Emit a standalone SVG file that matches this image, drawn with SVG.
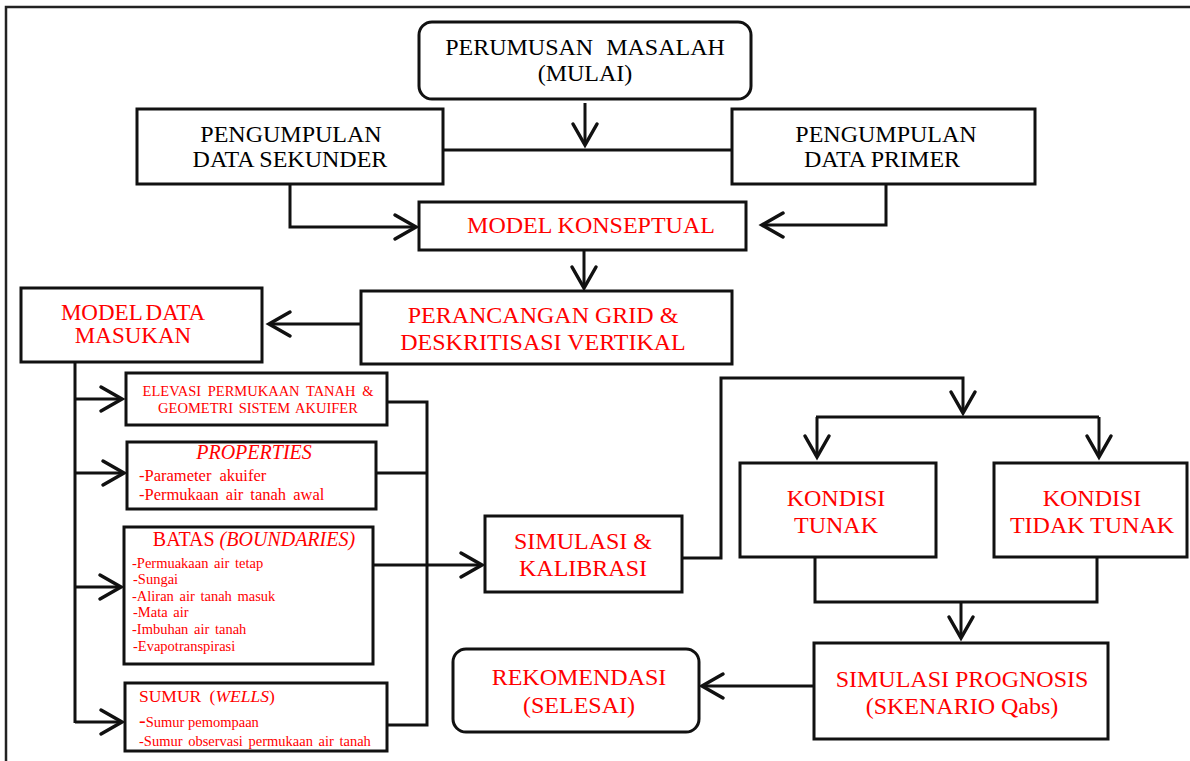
<svg xmlns="http://www.w3.org/2000/svg" width="1190" height="761" viewBox="0 0 1190 761">
<defs>
<marker id="arr" markerUnits="userSpaceOnUse" viewBox="-2 -2 26 28" markerWidth="26" markerHeight="28" refX="21" refY="12" orient="auto" overflow="visible">
<path d="M0,0 L21,12 L0,24" fill="none" stroke="#111" stroke-width="3.5" stroke-linecap="round" stroke-linejoin="miter"/>
</marker>
<style>
.box{fill:#fff;stroke:#111;stroke-width:3}
.t{font-family:"Liberation Serif","Times New Roman",serif;text-anchor:middle}
.big{font-size:24px}
.blk{fill:#000}
.red{fill:#ff0000}
.sm{font-size:14.5px;text-anchor:start}
.con{fill:none;stroke:#111;stroke-width:3}
</style>
</defs>
<rect x="0" y="0" width="1190" height="761" fill="#fff"/>
<path d="M6,761 V7 H1190" fill="none" stroke="#222" stroke-width="2.5"/>

<g id="connectors">
<path class="con" d="M585,103 V145" marker-end="url(#arr)"/>
<path class="con" d="M443,150 H732"/>
<path class="con" d="M290,184 V227 H416" marker-end="url(#arr)"/>
<path class="con" d="M886,184 V225 H762" marker-end="url(#arr)"/>
<path class="con" d="M584,250 V288" marker-end="url(#arr)"/>
<path class="con" d="M361,324 H269" marker-end="url(#arr)"/>
<path class="con" d="M75,362 V723"/>
<path class="con" d="M75,399 H122" marker-end="url(#arr)"/>
<path class="con" d="M75,473 H124" marker-end="url(#arr)"/>
<path class="con" d="M75,587 H121" marker-end="url(#arr)"/>
<path class="con" d="M75,722 H122" marker-end="url(#arr)"/>
<path class="con" d="M387,402 H427 V725 H387"/>
<path class="con" d="M376,473 H427"/>
<path class="con" d="M373,565 H482" marker-end="url(#arr)"/>
<path class="con" d="M682,558 H721 V378 H963 V413" marker-end="url(#arr)"/>
<path class="con" d="M816,417 H1099"/>
<path class="con" d="M817,417 V457" marker-end="url(#arr)"/>
<path class="con" d="M1099,417 V457" marker-end="url(#arr)"/>
<path class="con" d="M815,557 V602 H1097 V557"/>
<path class="con" d="M961,602 V638" marker-end="url(#arr)"/>
<path class="con" d="M814,686 H702" marker-end="url(#arr)"/>
</g>

<g id="perumusan">
<rect class="box" x="419" y="22" width="332" height="77" rx="13"/>
<text class="t big blk" x="585" y="55" word-spacing="7">PERUMUSAN MASALAH</text>
<text class="t big blk" x="585" y="81">(MULAI)</text>
</g>

<g id="sekunder">
<rect class="box" x="137" y="109" width="306" height="75"/>
<text class="t big blk" x="291" y="142">PENGUMPULAN</text>
<text class="t big blk" x="290" y="167">DATA SEKUNDER</text>
</g>

<g id="primer">
<rect class="box" x="732" y="109" width="303" height="75"/>
<text class="t big blk" x="886" y="142">PENGUMPULAN</text>
<text class="t big blk" x="882" y="167">DATA PRIMER</text>
</g>

<g id="konseptual">
<rect class="box" x="419" y="202" width="327" height="48"/>
<text class="t big red" x="591" y="233">MODEL KONSEPTUAL</text>
</g>

<g id="perancangan">
<rect class="box" x="361" y="291" width="371" height="73"/>
<text class="t big red" x="543" y="323">PERANCANGAN GRID &amp;</text>
<text class="t big red" x="543" y="350">DESKRITISASI VERTIKAL</text>
</g>

<g id="model-data">
<rect class="box" x="21" y="288" width="241" height="74"/>
<text class="t red" style="font-size:23px" x="133" y="320" word-spacing="-2">MODEL DATA</text>
<text class="t red" style="font-size:23px" x="133" y="343">MASUKAN</text>
</g>

<g id="elevasi">
<rect class="box" x="126" y="373" width="261" height="52"/>
<text class="t red" style="font-size:14.5px" x="258" y="396" word-spacing="3">ELEVASI PERMUKAAN TANAH &amp;</text>
<text class="t red" style="font-size:14.5px" x="258" y="413" word-spacing="2">GEOMETRI SISTEM AKUIFER</text>
</g>

<g id="properties">
<rect class="box" x="127" y="442" width="249" height="67"/>
<text class="t red" style="font-size:20px;font-style:italic" x="254" y="459">PROPERTIES</text>
<text class="t red" style="font-size:16.5px;text-anchor:start" x="139" y="481" word-spacing="4">-Parameter akuifer</text>
<text class="t red" style="font-size:16.5px;text-anchor:start" x="139" y="500" word-spacing="3">-Permukaan air tanah awal</text>
</g>

<g id="batas">
<rect class="box" x="124" y="527" width="249" height="137"/>
<text class="t red" style="font-size:20px" x="254" y="546">BATAS <tspan font-style="italic">(BOUNDARIES)</tspan></text>
<text class="t red sm" x="132" y="568" word-spacing="2">-Permuakaan air tetap</text>
<text class="t red sm" x="133" y="584">-Sungai</text>
<text class="t red sm" x="132" y="601" word-spacing="2">-Aliran air tanah masuk</text>
<text class="t red sm" x="133" y="617" word-spacing="2">-Mata air</text>
<text class="t red sm" x="132" y="634" word-spacing="2">-Imbuhan air tanah</text>
<text class="t red sm" x="133" y="651">-Evapotranspirasi</text>
</g>

<g id="sumur">
<rect class="box" x="125" y="683" width="262" height="68"/>
<text class="t red" style="font-size:17.5px;text-anchor:start" x="139" y="702" word-spacing="4">SUMUR (<tspan font-style="italic">WELLS</tspan>)</text>
<text class="t red sm" x="139" y="727"><tspan style="font-size:20px">-</tspan>Sumur pemompaan</text>
<text class="t red sm" x="139" y="746" word-spacing="2">-Sumur observasi permukaan air tanah</text>
</g>

<g id="simulasi">
<rect class="box" x="485" y="516" width="197" height="76"/>
<text class="t big red" x="583" y="549">SIMULASI &amp;</text>
<text class="t big red" x="583" y="576">KALIBRASI</text>
</g>

<g id="tunak">
<rect class="box" x="740" y="463" width="196" height="94"/>
<text class="t big red" x="836" y="506">KONDISI</text>
<text class="t big red" x="836" y="533">TUNAK</text>
</g>

<g id="tidak-tunak">
<rect class="box" x="994" y="463" width="193" height="94"/>
<text class="t big red" x="1092" y="506">KONDISI</text>
<text class="t big red" x="1092" y="533">TIDAK TUNAK</text>
</g>

<g id="prognosis">
<rect class="box" x="814" y="643" width="294" height="96"/>
<text class="t big red" x="962" y="687">SIMULASI PROGNOSIS</text>
<text class="t big red" x="962" y="714">(SKENARIO Qabs)</text>
</g>

<g id="rekomendasi">
<rect class="box" x="453" y="649" width="246" height="83" rx="13"/>
<text class="t big red" x="579" y="685">REKOMENDASI</text>
<text class="t big red" x="579" y="713">(SELESAI)</text>
</g>
</svg>
